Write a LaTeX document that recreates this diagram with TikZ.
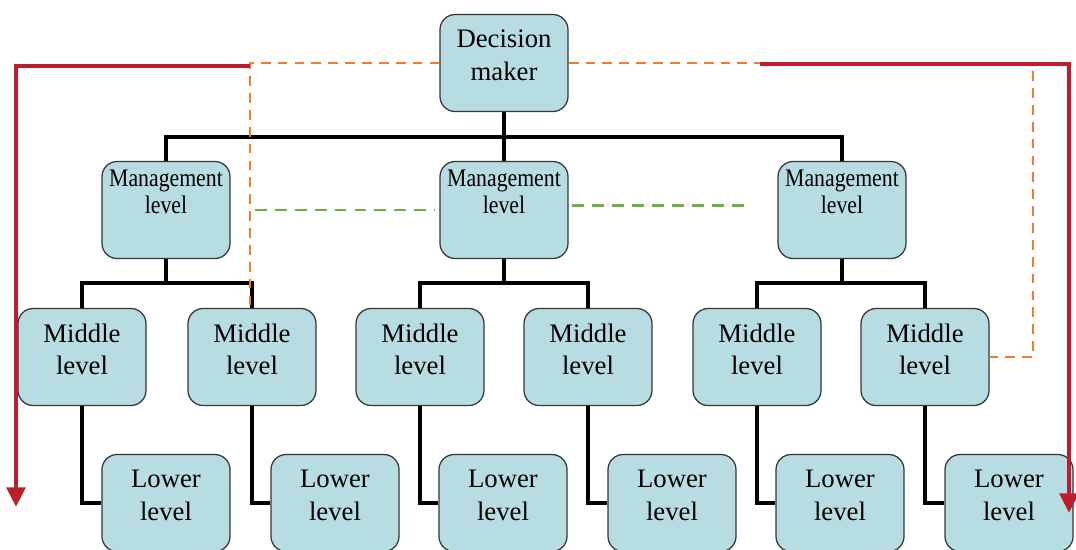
\documentclass[tikz,border=0pt]{standalone}
\usepackage{fontspec}
\setmainfont{Liberation Serif}
\newfontfamily\narrowserif[FakeStretch=0.86]{Liberation Serif}
\usetikzlibrary{positioning, arrows.meta}
\definecolor{boxfill}{RGB}{183,221,226}
\definecolor{boxline}{RGB}{55,55,55}
\definecolor{arrowred}{RGB}{190,30,42}
\definecolor{dashorange}{RGB}{237,125,49}
\definecolor{dashgreen}{RGB}{112,173,71}
\tikzset{
  lvl/.style={draw=boxline, line width=0.9pt, fill=boxfill, rounded corners=0.38cm,
    minimum width=3.2cm, minimum height=2.425cm, align=center, inner sep=2pt,
    font=\fontsize{19}{23}\selectfont, text depth=11pt},
  mgmt/.style={lvl, font=\narrowserif\fontsize{18}{19.5}\selectfont, text depth=26pt},
  tree/.style={line width=2.8pt},
  orangedash/.style={dashorange, line width=1.4pt, dash pattern=on 7pt off 5pt},
  greendash/.style={dashgreen, line width=2pt, dash pattern=on 8.5pt off 5.7pt},
  redarrow/.style={arrowred, line width=3.5pt, -{Triangle[width=13pt,length=14pt]}}
}
\begin{document}
\begin{tikzpicture}[x=0.025cm, y=-0.025cm]
        \useasboundingbox (0,0) rectangle (1076,549);
        % top
        \node[lvl] (0) at (504,63) {Decision\\maker};
        % management layer
        \node[mgmt] (11) at (166,210) {Management\\level};
        \node[mgmt] (12) at (504,210) {Management\\level};
        \node[mgmt] (13) at (842,210) {Management\\level};
        % middle layer
        \node[lvl] (21) at (82,357) {Middle\\level};
        \node[lvl] (22) at (252,357) {Middle\\level};
        \node[lvl] (23) at (420,357) {Middle\\level};
        \node[lvl] (24) at (588,357) {Middle\\level};
        \node[lvl] (25) at (757,357) {Middle\\level};
        \node[lvl] (26) at (925,357) {Middle\\level};
        % lower layer
        \node[lvl] (31) at (166,503) {Lower\\level};
        \node[lvl] (32) at (335,503) {Lower\\level};
        \node[lvl] (33) at (503,503) {Lower\\level};
        \node[lvl] (34) at (672,503) {Lower\\level};
        \node[lvl] (35) at (840,503) {Lower\\level};
        \node[lvl] (36) at (1009,503) {Lower\\level};

        % tree lines
        \coordinate (b0) at (504,137);
        \coordinate (b1) at (166,283);
        \coordinate (b2) at (504,283);
        \coordinate (b3) at (842,283);
        \draw[tree] (0.south) -- (12.north);
        \draw[tree] (11.north) |- (b0) -| (13.north);
        \draw[tree] (11.south) -- (b1);
        \draw[tree] (21.north) |- (b1) -| (22.north);
        \draw[tree] (12.south) -- (b2);
        \draw[tree] (23.north) |- (b2) -| (24.north);
        \draw[tree] (13.south) -- (b3);
        \draw[tree] (25.north) |- (b3) -| (26.north);
        \draw[tree] (21.south) |- (31.west);
        \draw[tree] (22.south) |- (32.west);
        \draw[tree] (23.south) |- (33.west);
        \draw[tree] (24.south) |- (34.west);
        \draw[tree] (25.south) |- (35.west);
        \draw[tree] (26.south) |- (36.west);

        % dashed links
        \coordinate (o1) at (1033,63);
        \draw[orangedash] (0.west) -| ([xshift=-0.05cm]22.north);
        \draw[orangedash] (0.east) -- (o1) |- (26.east);
        \draw[greendash] ([xshift=0.6cm]11.east) -- ([xshift=-0.12cm]12.west);
        \draw[greendash] ([shift={(0.08cm,0.12cm)}]12.east) -- ([shift={(-0.68cm,0.12cm)}]13.west);

        % red arrows
        \coordinate (r1) at (250,66);
        \coordinate (r2) at (16,66);
        \coordinate (r3) at (16,507);
        \coordinate (r4) at (760,64);
        \coordinate (r5) at (1069,64);
        \coordinate (r6) at (1069,513);
        \draw[redarrow] (r1) -- (r2) -- (r3);
        \draw[redarrow] (r4) -- (r5) -- (r6);
    \end{tikzpicture}
\end{document}
